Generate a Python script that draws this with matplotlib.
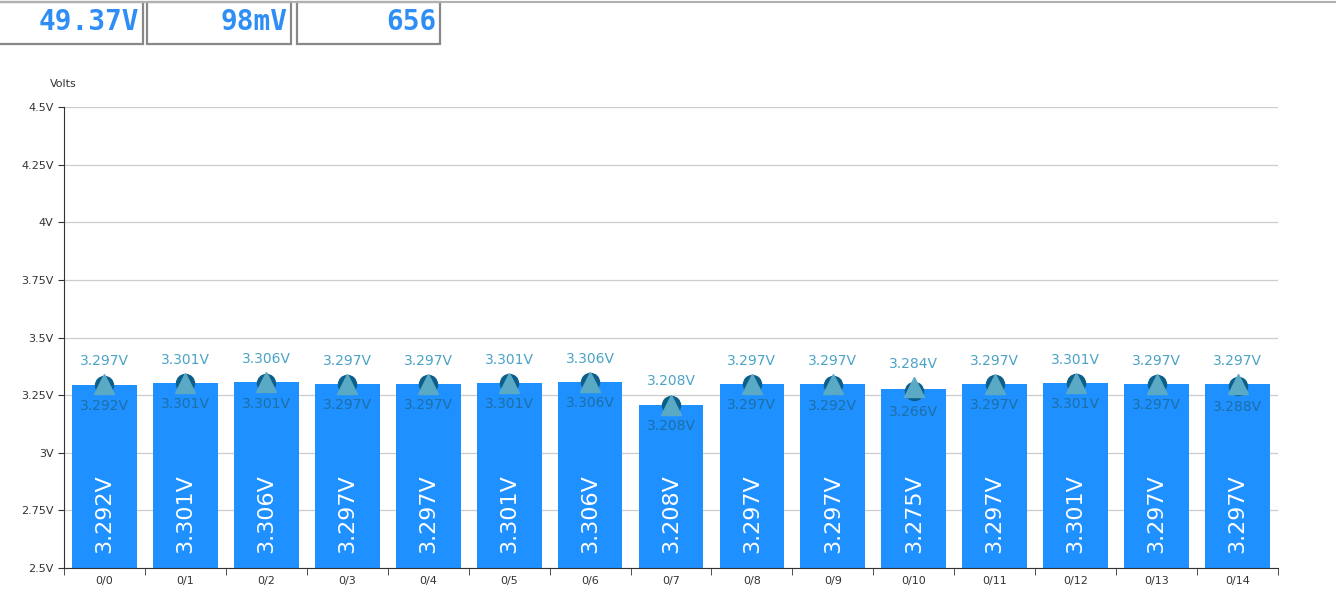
import matplotlib
matplotlib.use("Agg")
import matplotlib.pyplot as plt
from matplotlib.patches import Rectangle

# cell labels and readings
cells = ["0/0", "0/1", "0/2", "0/3", "0/4", "0/5", "0/6", "0/7",
         "0/8", "0/9", "0/10", "0/11", "0/12", "0/13", "0/14"]
volts = [3.292, 3.301, 3.306, 3.297, 3.297, 3.301, 3.306, 3.208,
         3.297, 3.297, 3.275, 3.297, 3.301, 3.297, 3.297]
v_max = [3.297, 3.301, 3.306, 3.297, 3.297, 3.301, 3.306, 3.208,
         3.297, 3.297, 3.284, 3.297, 3.301, 3.297, 3.297]
v_min = [3.292, 3.301, 3.301, 3.297, 3.297, 3.301, 3.306, 3.208,
         3.297, 3.292, 3.266, 3.297, 3.301, 3.297, 3.288]
yticks = [2.5, 2.75, 3.0, 3.25, 3.5, 3.75, 4.0, 4.25, 4.5]

# summary boxes at the top
summary = ["49.37V", "98mV", "656"]
box_edges = [(-6, 143), (147, 291), (297, 440)]

W, H = 1336, 604
fig = plt.figure(figsize=(W / 100, H / 100), dpi=100)

# top header line and boxes
fig.add_artist(plt.Line2D([0, 1], [1 - 2 / H, 1 - 2 / H], color="#b0b0b0", lw=1.5))
for (x0, x1), txt in zip(box_edges, summary):
    fig.add_artist(Rectangle((x0 / W, 1 - 44 / H), (x1 - x0) / W, 42 / H,
                             transform=fig.transFigure, fill=False,
                             edgecolor="#888888", lw=1.6))
    fig.text((x1 - 4) / W, 1 - 22 / H, txt, ha="right", va="center",
             fontsize=20, fontweight="bold", family="DejaVu Sans Mono",
             color="#2f8ef5")

ax = fig.add_axes([64 / W, 36 / H, 1214 / W, 461 / H])
x = list(range(len(cells)))

ax.bar(x, volts, width=0.8, color="#1e90ff", zorder=2)
ax.set_xlim(-0.5, len(cells) - 0.5)
ax.set_ylim(2.5, 4.5)

for xi, v in zip(x, volts):
    ax.annotate(f"{v:.3f}V", (xi, 2.5), xytext=(0, 11), textcoords="offset points",
                rotation=90, ha="center", va="bottom", color="white",
                fontsize=16, zorder=4)

# min/max markers
ax.plot(x, v_min, "o", ms=13, color="#0b5f8a", zorder=3, clip_on=False)
ax.plot(x, v_max, "^", ms=15, color="#5aaac6", zorder=3, clip_on=False)
for xi, hi, lo in zip(x, v_max, v_min):
    ax.annotate(f"{hi:.3f}V", (xi, hi), xytext=(0, 17), textcoords="offset points",
                ha="center", va="center", color="#4aa3c6", fontsize=10)
    ax.annotate(f"{lo:.3f}V", (xi, lo), xytext=(0, -15), textcoords="offset points",
                ha="center", va="center", color="#1d6a94", fontsize=10, alpha=0.85,
                zorder=4)

ax.set_yticks(yticks)
ax.set_yticklabels([f"{t:g}V" for t in yticks])
ax.set_xticks(x)
ax.set_xticklabels(cells)
ax.set_xticks([i - 0.5 for i in range(len(cells) + 1)], minor=True)
ax.tick_params(axis="x", which="major", length=0, pad=6, labelsize=8, labelcolor="#333333")
ax.tick_params(axis="x", which="minor", length=5, color="#333333")
ax.tick_params(axis="y", length=4, labelsize=8, labelcolor="#333333", color="#333333")
ax.grid(axis="y", color="#cccccc", lw=0.9, zorder=0)
ax.set_axisbelow(True)
for s in ["top", "right"]:
    ax.spines[s].set_visible(False)
for s in ["left", "bottom"]:
    ax.spines[s].set_color("#333333")

fig.text(50 / W, 1 - 84 / H, "Volts", ha="left", va="center", fontsize=8, color="#333333")

fig.savefig("out.png", dpi=100)
